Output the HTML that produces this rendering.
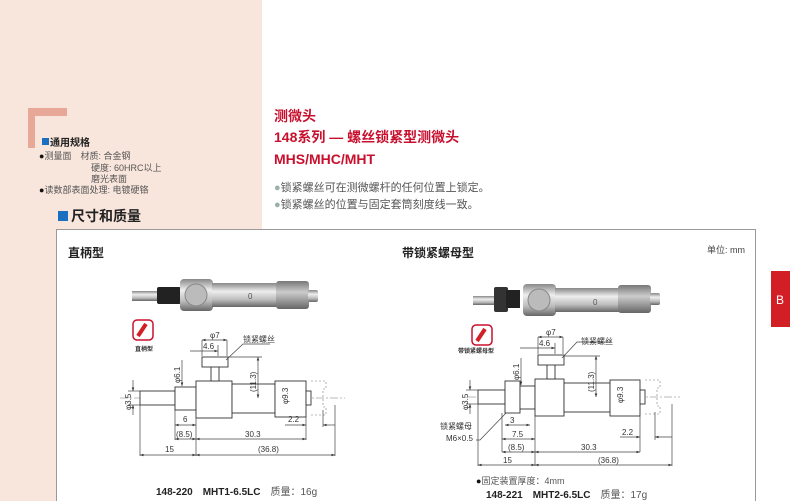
<!DOCTYPE html>
<html><head><meta charset="utf-8"><style>
body{margin:0;width:790px;height:501px;overflow:hidden;background:#fff;font-family:"Liberation Sans","Noto Sans CJK SC",sans-serif}
svg{position:absolute;left:0;top:0}
text{font-family:"Liberation Sans","Noto Sans CJK SC",sans-serif}
.d{font-size:8px;fill:#333}
.l{stroke:#444;stroke-width:0.7;fill:none}
.p{fill:#fff;stroke:#333;stroke-width:0.9}
</style></head><body>
<svg width="790" height="501" viewBox="0 0 790 501">
<defs>
<linearGradient id="mg" x1="0" y1="0" x2="0" y2="1"><stop offset="0" stop-color="#888"/><stop offset=".35" stop-color="#eee"/><stop offset=".7" stop-color="#bbb"/><stop offset="1" stop-color="#666"/></linearGradient>
<linearGradient id="kg" x1="0" y1="0" x2="0" y2="1"><stop offset="0" stop-color="#777"/><stop offset=".4" stop-color="#ccc"/><stop offset="1" stop-color="#666"/></linearGradient>
<marker id="a" viewBox="0 0 6 6" refX="6" refY="3" markerWidth="5" markerHeight="5" orient="auto-start-reverse"><path d="M0,0.8L6,3L0,5.2z" fill="#333"/></marker>
</defs>
<!-- pink backgrounds -->
<rect x="0" y="0" width="262" height="229" fill="#f8e5dc"/>
<rect x="0" y="229" width="56" height="272" fill="#f8e5dc"/>
<path d="M28,108H67V116H35V148H28z" fill="#e8a898"/>
<!-- left spec -->
<rect x="42" y="138" width="7" height="7" fill="#1a6fc0"/>
<text x="50" y="146" font-size="10" font-weight="bold" fill="#222">通用规格</text>
<text x="39" y="159" font-size="9" fill="#555"><tspan fill="#111">●</tspan>测量面　材质: 合金钢</text>
<text x="91" y="171" font-size="9" fill="#555">硬度: 60HRC以上</text>
<text x="91" y="182" font-size="9" fill="#555">磨光表面</text>
<text x="39" y="193" font-size="9" fill="#555"><tspan fill="#111">●</tspan>读数部表面处理: 电镀硬铬</text>
<rect x="58" y="211" width="10" height="10" fill="#1a6fc0"/>
<text x="71" y="221" font-size="14" font-weight="bold" fill="#222">尺寸和质量</text>
<!-- title -->
<g fill="#c8102e" font-weight="bold" font-size="14">
<text x="274" y="121">测微头</text>
<text x="274" y="142">148系列 — 螺丝锁紧型测微头</text>
<text x="274" y="164">MHS/MHC/MHT</text>
</g>
<g font-size="11" fill="#555">
<text x="274" y="191"><tspan fill="#9bb0a8">●</tspan>锁紧螺丝可在测微螺杆的任何位置上锁定。</text>
<text x="274" y="208"><tspan fill="#9bb0a8">●</tspan>锁紧螺丝的位置与固定套筒刻度线一致。</text>
</g>
<!-- panel -->
<path d="M56.5,501V229.5H755.5V501" fill="#fff" stroke="#999"/>
<rect x="771" y="271" width="19" height="56" fill="#d21f26"/>
<text x="776" y="304" font-size="12" fill="#fff">B</text>
<text x="68" y="257" font-size="12" font-weight="bold" fill="#222">直柄型</text>
<text x="402" y="257" font-size="12" font-weight="bold" fill="#222">带锁紧螺母型</text>
<text x="707" y="253" font-size="9" fill="#444">单位: mm</text>

<!-- PHOTO 1 -->
<rect x="132" y="291" width="26" height="10" fill="url(#mg)"/>
<rect x="157" y="287" width="24" height="17" rx="2" fill="#222"/>
<rect x="180" y="279" width="33" height="32" rx="4" fill="url(#mg)"/>
<circle cx="196" cy="295" r="11" fill="#bbb" stroke="#888"/>
<rect x="212" y="283" width="64" height="24" fill="url(#mg)"/>
<text x="248" y="299" font-size="8" fill="#555">0</text>
<rect x="276" y="281" width="33" height="28" rx="3" fill="url(#kg)"/>
<rect x="308" y="290" width="10" height="12" rx="2" fill="url(#mg)"/>
<rect x="133" y="320" width="20" height="20" rx="4" fill="#fff" stroke="#c8102e" stroke-width="1.5"/>
<path d="M138,336l8-12" stroke="#d21f26" stroke-width="4"/>
<text x="135" y="351" font-size="6" font-weight="bold" fill="#333">直柄型</text>

<!-- DRAWING 1 -->
<line x1="120" y1="398" x2="345" y2="398" stroke="#777" stroke-width=".5" stroke-dasharray="8,2,2,2"/>
<rect class="p" x="140" y="391" width="35" height="14"/>
<rect class="p" x="175" y="387" width="21" height="23"/>
<rect class="p" x="196" y="381" width="36" height="37"/>
<rect class="p" x="211" y="366" width="8" height="15"/>
<rect class="p" x="202" y="357" width="26" height="10"/>
<rect class="p" x="232" y="384" width="43" height="29"/>
<rect class="p" x="275" y="381" width="31" height="36"/>
<rect class="p" x="306" y="391" width="5" height="14"/>
<path d="M311,381h15v8h-3v18h3v8h-15" fill="none" stroke="#777" stroke-width=".6" stroke-dasharray="2,2"/>
<g class="l">
<line x1="202" y1="340" x2="202" y2="356"/><line x1="227" y1="340" x2="227" y2="356"/>
<line x1="202" y1="340" x2="227" y2="340" marker-start="url(#a)" marker-end="url(#a)"/>
<line x1="190" y1="351" x2="218" y2="351" marker-end="url(#a)"/>
<line x1="218" y1="345" x2="218" y2="356"/>
<path d="M226,360L243,344H270"/>
<line x1="258" y1="357" x2="258" y2="398" marker-start="url(#a)" marker-end="url(#a)"/>
<line x1="228" y1="357" x2="262" y2="357"/>
<line x1="182" y1="360" x2="182" y2="386" marker-end="url(#a)"/>
<line x1="133" y1="380" x2="133" y2="391" marker-end="url(#a)"/>
<line x1="133" y1="415" x2="133" y2="405" marker-end="url(#a)"/>
<line x1="128" y1="391" x2="140" y2="391"/><line x1="128" y1="405" x2="140" y2="405"/>
<line x1="140" y1="405" x2="140" y2="456"/><line x1="175" y1="410" x2="175" y2="440"/>
<line x1="196" y1="418" x2="196" y2="456"/><line x1="306" y1="417" x2="306" y2="440"/>
<line x1="335" y1="405" x2="335" y2="456"/><line x1="323" y1="410" x2="323" y2="427"/>
<line x1="175" y1="425" x2="196" y2="425" marker-start="url(#a)" marker-end="url(#a)"/>
<line x1="285" y1="425" x2="306" y2="425" marker-end="url(#a)"/>
<line x1="335" y1="425" x2="323" y2="425" marker-end="url(#a)"/>
<line x1="175" y1="439" x2="196" y2="439" marker-start="url(#a)" marker-end="url(#a)"/>
<line x1="196" y1="439" x2="306" y2="439" marker-start="url(#a)" marker-end="url(#a)"/>
<line x1="140" y1="455" x2="196" y2="455" marker-start="url(#a)" marker-end="url(#a)"/>
<line x1="196" y1="455" x2="335" y2="455" marker-start="url(#a)" marker-end="url(#a)"/>
</g>
<g class="d">
<text x="210" y="338">φ7</text><text x="203" y="349">4.6</text>
<text x="243" y="342">锁紧螺丝</text>
<text x="183" y="422">6</text><text x="288" y="422">2.2</text>
<text x="176" y="437">(8.5)</text><text x="245" y="437">30.3</text>
<text x="165" y="452">15</text><text x="258" y="452">(36.8)</text>
<text transform="translate(256,392) rotate(-90)">(11.3)</text>
<text transform="translate(180,383) rotate(-90)">φ6.1</text>
<text transform="translate(131,410) rotate(-90)">φ3.5</text>
<text transform="translate(288,404) rotate(-90)">φ9.3</text>
</g>
<text x="156" y="495" font-size="10" font-weight="bold" fill="#222">148-220　MHT1-6.5LC　<tspan font-weight="normal" fill="#555">质量：16g</tspan></text>

<!-- PHOTO 2 -->
<rect x="473" y="296" width="22" height="9" fill="url(#mg)"/>
<rect x="494" y="287" width="14" height="25" rx="2" fill="#333"/>
<rect x="506" y="290" width="14" height="18" fill="#222"/>
<rect x="523" y="284" width="33" height="32" rx="4" fill="url(#mg)"/>
<circle cx="539" cy="300" r="11" fill="#bbb" stroke="#888"/>
<rect x="555" y="288" width="64" height="24" fill="url(#mg)"/>
<text x="593" y="305" font-size="8" fill="#555">0</text>
<rect x="618" y="285" width="33" height="28" rx="3" fill="url(#kg)"/>
<rect x="650" y="293" width="10" height="12" rx="2" fill="url(#mg)"/>
<rect x="472" y="325" width="20" height="20" rx="4" fill="#fff" stroke="#c8102e" stroke-width="1.5"/>
<path d="M477,341l8-12" stroke="#d21f26" stroke-width="4"/>
<text x="458" y="353" font-size="6" font-weight="bold" fill="#333">带锁紧螺母型</text>

<!-- DRAWING 2 -->
<line x1="468" y1="397" x2="680" y2="397" stroke="#777" stroke-width=".5" stroke-dasharray="8,2,2,2"/>
<rect class="p" x="478" y="390" width="27" height="14"/>
<rect class="p" x="505" y="381" width="15" height="32"/>
<rect class="p" x="520" y="386" width="15" height="23"/>
<rect class="p" x="535" y="379" width="29" height="37"/>
<rect class="p" x="547" y="364" width="8" height="15"/>
<rect class="p" x="538" y="355" width="26" height="10"/>
<rect class="p" x="564" y="383" width="46" height="29"/>
<rect class="p" x="610" y="380" width="30" height="36"/>
<rect class="p" x="640" y="390" width="5" height="14"/>
<path d="M645,380h15v8h-3v18h3v8h-15" fill="none" stroke="#777" stroke-width=".6" stroke-dasharray="2,2"/>
<g class="l">
<line x1="538" y1="337" x2="538" y2="354"/><line x1="563" y1="337" x2="563" y2="354"/>
<line x1="538" y1="337" x2="563" y2="337" marker-start="url(#a)" marker-end="url(#a)"/>
<line x1="520" y1="348" x2="555" y2="348" marker-end="url(#a)"/>
<line x1="555" y1="343" x2="555" y2="354"/>
<path d="M562,358L577,342H612"/>
<line x1="596" y1="356" x2="596" y2="397" marker-start="url(#a)" marker-end="url(#a)"/>
<line x1="564" y1="356" x2="600" y2="356"/>
<line x1="521" y1="358" x2="521" y2="385" marker-end="url(#a)"/>
<line x1="470" y1="380" x2="470" y2="390" marker-end="url(#a)"/>
<line x1="470" y1="414" x2="470" y2="404" marker-end="url(#a)"/>
<line x1="466" y1="390" x2="478" y2="390"/><line x1="466" y1="404" x2="478" y2="404"/>
<line x1="478" y1="404" x2="478" y2="466"/><line x1="502" y1="413" x2="502" y2="452"/>
<line x1="535" y1="416" x2="535" y2="466"/><line x1="640" y1="416" x2="640" y2="452"/>
<line x1="672" y1="404" x2="672" y2="466"/><line x1="655" y1="412" x2="655" y2="440"/>
<path d="M506,413L480,440H476"/>
<line x1="505" y1="425" x2="530" y2="425" marker-start="url(#a)" marker-end="url(#a)"/>
<line x1="502" y1="439" x2="535" y2="439" marker-start="url(#a)" marker-end="url(#a)"/>
<line x1="620" y1="437" x2="640" y2="437" marker-end="url(#a)"/>
<line x1="672" y1="437" x2="655" y2="437" marker-end="url(#a)"/>
<line x1="502" y1="452" x2="535" y2="452" marker-start="url(#a)" marker-end="url(#a)"/>
<line x1="535" y1="452" x2="640" y2="452" marker-start="url(#a)" marker-end="url(#a)"/>
<line x1="478" y1="465" x2="535" y2="465" marker-start="url(#a)" marker-end="url(#a)"/>
<line x1="535" y1="465" x2="672" y2="465" marker-start="url(#a)" marker-end="url(#a)"/>
</g>
<g class="d">
<text x="546" y="335">φ7</text><text x="539" y="346">4.6</text>
<text x="581" y="344">锁紧螺丝</text>
<text x="440" y="429">锁紧螺母</text><text x="446" y="441">M6×0.5</text>
<text x="510" y="423">3</text><text x="512" y="437">7.5</text><text x="622" y="435">2.2</text>
<text x="508" y="450">(8.5)</text><text x="581" y="450">30.3</text>
<text x="503" y="463">15</text><text x="598" y="463">(36.8)</text>
<text transform="translate(594,392) rotate(-90)">(11.3)</text>
<text transform="translate(519,380) rotate(-90)">φ6.1</text>
<text transform="translate(468,410) rotate(-90)">φ3.5</text>
<text transform="translate(623,403) rotate(-90)">φ9.3</text>
</g>
<text x="476" y="484" font-size="9" fill="#555"><tspan fill="#111">●</tspan>固定装置厚度：4mm</text>
<text x="486" y="498" font-size="10" font-weight="bold" fill="#222">148-221　MHT2-6.5LC　<tspan font-weight="normal" fill="#555">质量：17g</tspan></text>
</svg>
</body></html>
